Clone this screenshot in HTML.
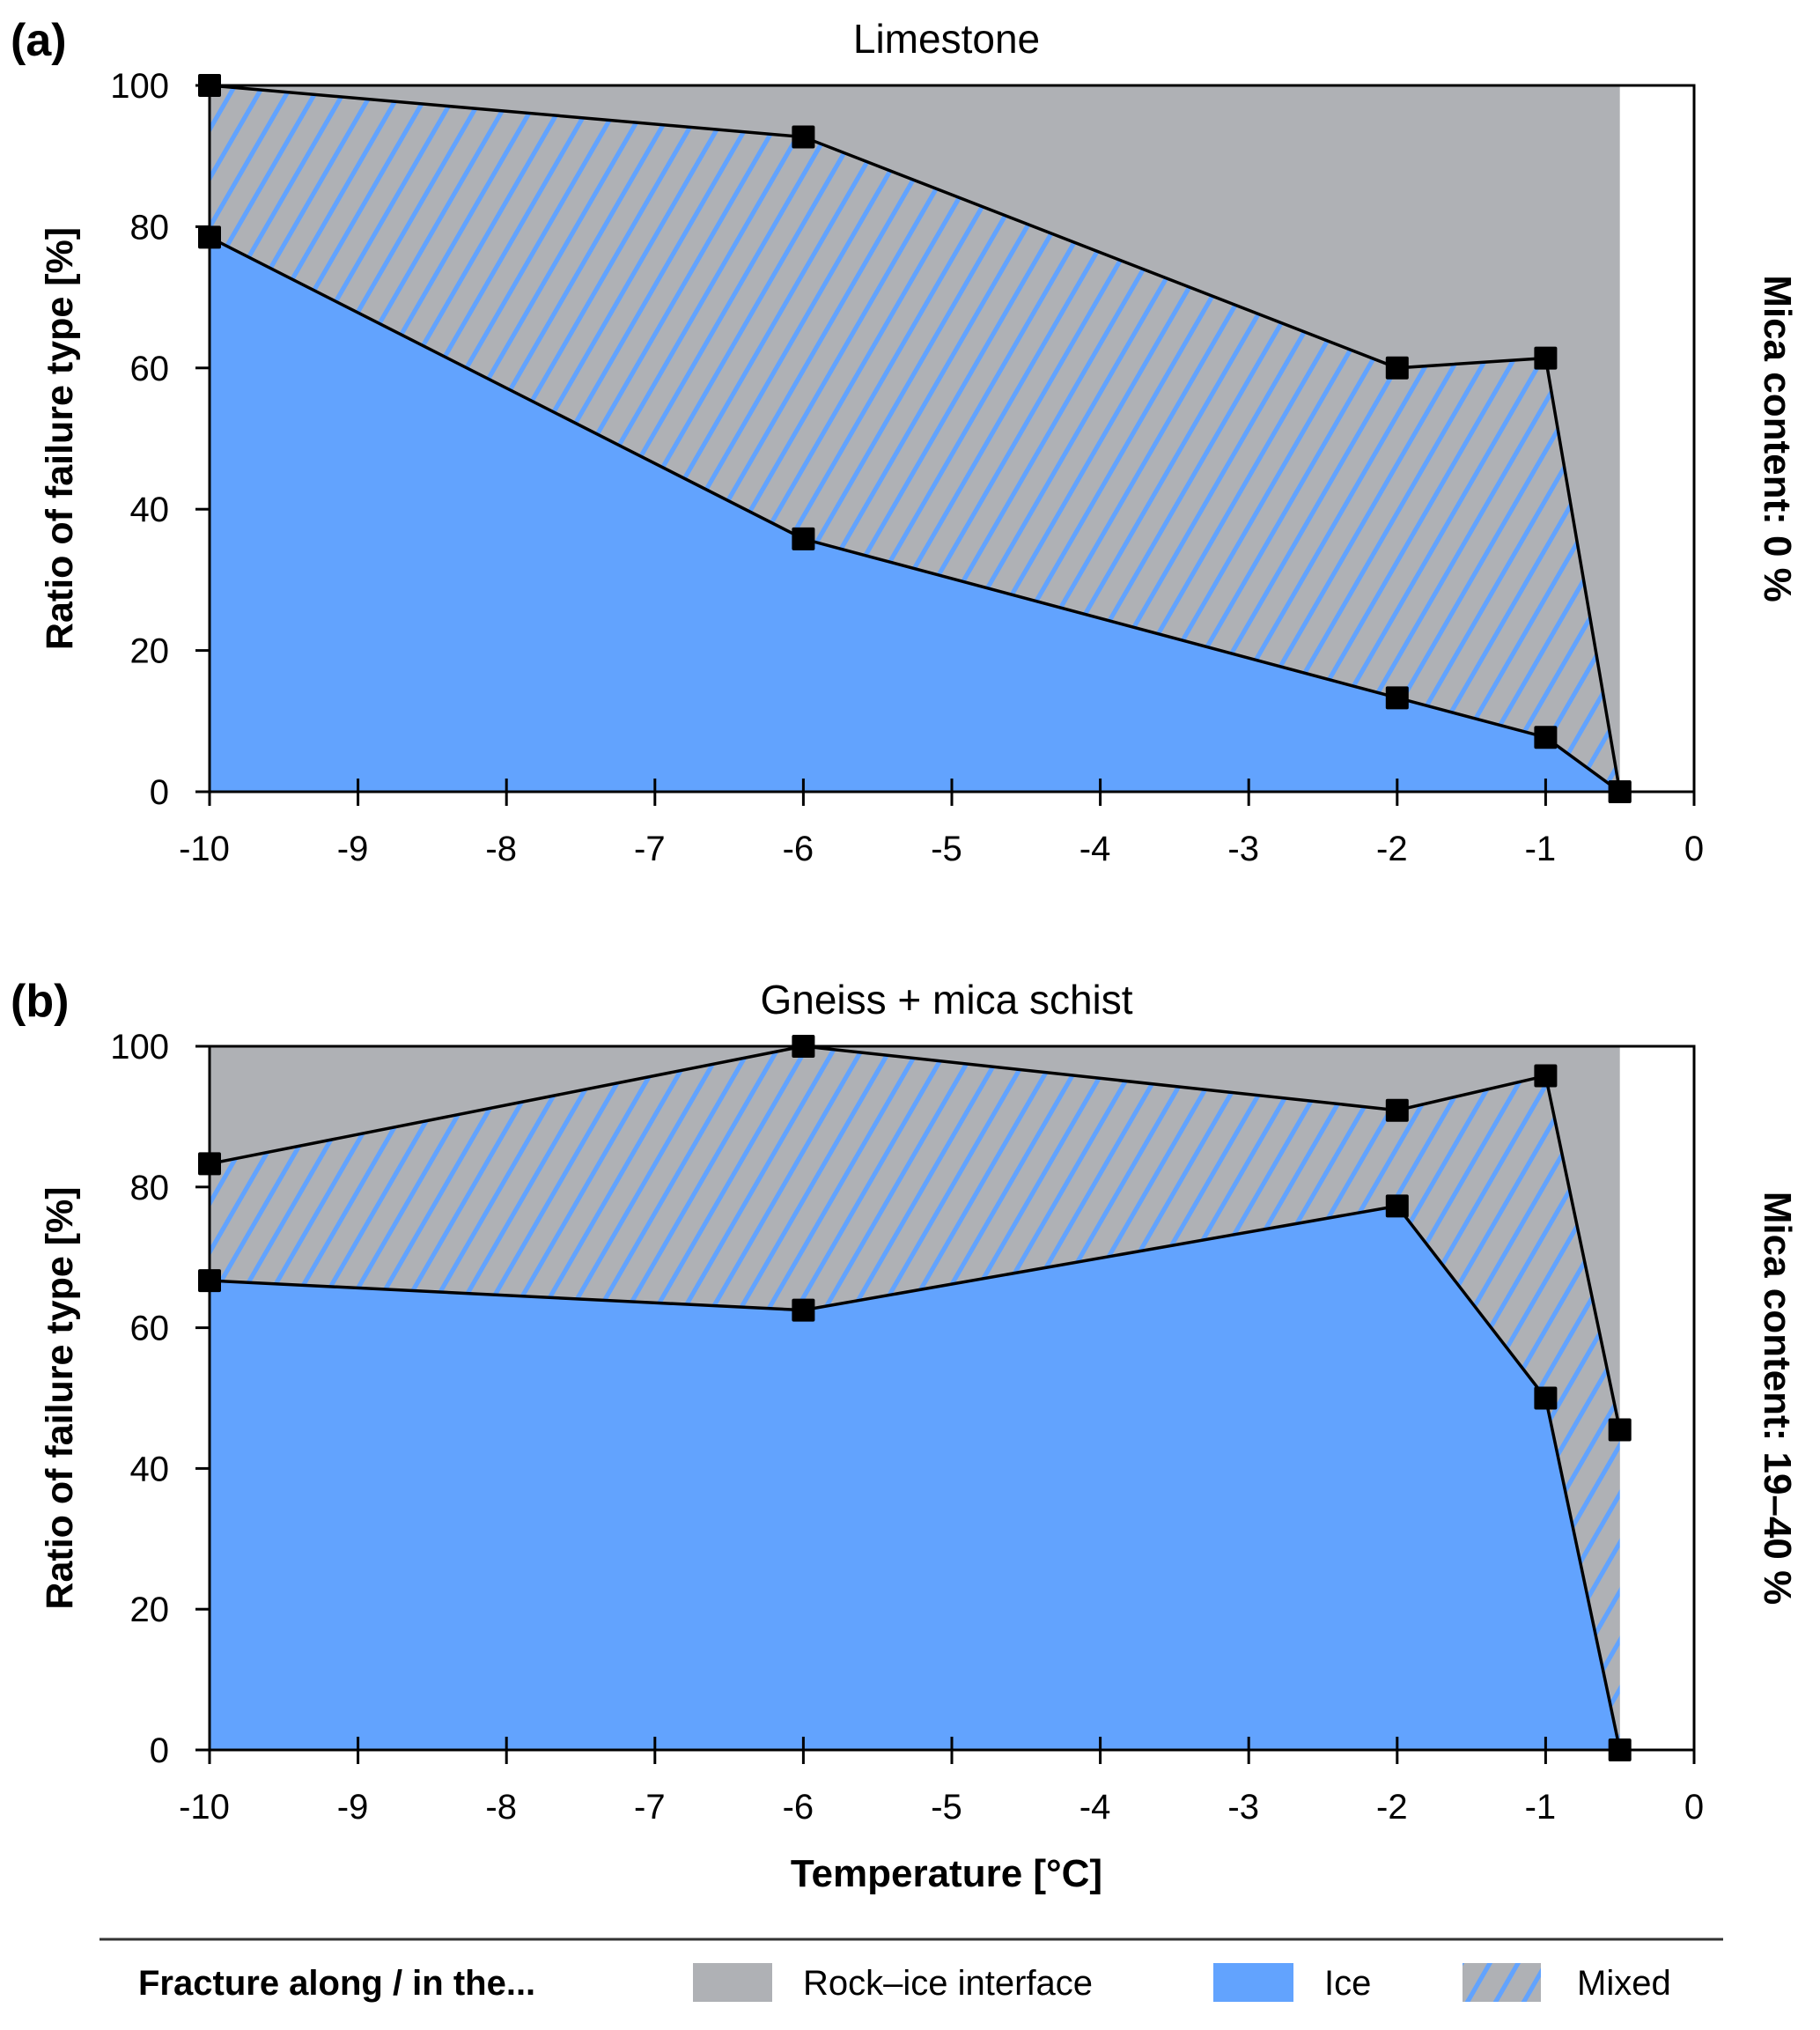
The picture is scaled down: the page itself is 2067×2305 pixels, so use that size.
<!DOCTYPE html>
<html><head><meta charset="utf-8">
<style>
html,body{margin:0;padding:0;background:#fff;}
svg{display:block;font-family:"Liberation Sans",sans-serif;}
</style></head>
<body>
<svg id="fig" width="2067" height="2305" viewBox="0 0 2067 2305" xmlns="http://www.w3.org/2000/svg">
<defs>
<pattern id="hatch" patternUnits="userSpaceOnUse" width="32" height="2000" patternTransform="skewX(-30)">
<rect width="32" height="2000" fill="#afb1b5"/>
<rect x="0" width="6" height="2000" fill="#62a3fe"/>
</pattern>
</defs>
<g id="chart"></g>
<g>
<line x1="113" y1="2202" x2="1957" y2="2202" stroke="#333" stroke-width="3"/>
<text x="157" y="2265" font-size="40" font-weight="bold" fill="#000">Fracture along / in the...</text>
<rect x="787" y="2229" width="90" height="44" fill="#afb1b5"/>
<text x="912" y="2265" font-size="40" fill="#000">Rock–ice interface</text>
<rect x="1378" y="2229" width="91" height="44" fill="#62a3fe"/>
<text x="1504" y="2265" font-size="40" fill="#000">Ice</text>
<rect x="1661" y="2229" width="89" height="44" fill="url(#hatch)"/>
<text x="1791" y="2265" font-size="40" fill="#000">Mixed</text>
</g>
</svg>
<script>
const temps = [-10, -6, -2, -1, -0.5];
const topA = [100, 92.7, 60, 61.4, 0];
const iceA = [78.5, 35.8, 13.3, 7.7, 0];
const topB = [83.3, 100, 90.9, 95.8, 45.5];
const iceB = [66.7, 62.5, 77.3, 50, 0];
const xTicks = [-10, -9, -8, -7, -6, -5, -4, -3, -2, -1, 0];
const yTicks = [0, 20, 40, 60, 80, 100];

const NS = "http://www.w3.org/2000/svg";
const root = document.getElementById('chart');
function mk(tag, attrs, parent){
  const e = document.createElementNS(NS, tag);
  for (const k in attrs) e.setAttribute(k, attrs[k]);
  (parent||root).appendChild(e);
  return e;
}
const X0 = 238, X1 = 1924;
function xs(v){ return X0 + (v + 10) / 10 * (X1 - X0); }

function panel(id, top, bottom, topVals, iceVals, title, letter, mica, showXTitle){
  const g = mk('g', {});
  
  
  const ys = v => bottom - v / 100 * (bottom - top);
  const bg = mk('rect', {x: xs(-10), y: ys(100), width: xs(-0.5) - xs(-10), height: ys(0) - ys(100), fill: '#afb1b5'}, g);
  
  
  let d = '';
  temps.forEach((t, i) => { d += (i ? 'L' : 'M') + xs(t) + ' ' + ys(topVals[i]) + ' '; });
  for (let i = temps.length - 1; i >= 0; i--) d += 'L' + xs(temps[i]) + ' ' + ys(iceVals[i]) + ' ';
  const mixed = mk('path', {d: d + 'Z', fill: 'url(#hatch)'}, g);
  
  
  let d2 = 'M' + xs(temps[0]) + ' ' + ys(0) + ' ';
  temps.forEach((t, i) => { d2 += 'L' + xs(t) + ' ' + ys(iceVals[i]) + ' '; });
  d2 += 'L' + xs(temps[temps.length - 1]) + ' ' + ys(0) + ' Z';
  const ice = mk('path', {d: d2, fill: '#62a3fe'}, g);
  
  
  const fr = mk('rect', {x: X0, y: top, width: X1 - X0, height: bottom - top, fill: 'none', stroke: '#000', 'stroke-width': 3}, g);
  
  
  [topVals, iceVals].forEach((vals, k) => {
    const pts = temps.map((t, i) => xs(t) + ',' + ys(vals[i])).join(' ');
    const l = mk('polyline', {points: pts, fill: 'none', stroke: '#000', 'stroke-width': 3.5}, g);
    
    
    temps.forEach((t, i) => {
      const m = mk('rect', {x: xs(t) - 13, y: ys(vals[i]) - 13, width: 26, height: 26, rx: 2, fill: '#000'}, g);
      
      
    });
  });
  yTicks.forEach(v => {
    mk('line', {x1: X0 - 16, x2: X0, y1: ys(v), y2: ys(v), stroke: '#000', 'stroke-width': 3}, g);
    const t = mk('text', {x: X0 - 46, y: ys(v) + 14, 'font-size': 40, 'text-anchor': 'end'}, g);
    t.textContent = v;
    
    
  });
  xTicks.forEach(v => {
    mk('line', {x1: xs(v), x2: xs(v), y1: bottom - 15, y2: bottom + 16, stroke: '#000', 'stroke-width': 3}, g);
    const t = mk('text', {x: xs(v) - (v < 0 ? 6 : 0), y: bottom + 78, 'font-size': 40, 'text-anchor': 'middle'}, g);
    t.textContent = v;
    
    
  });
  const ttl = mk('text', {x: 1075, y: top - 37, 'font-size': 46, 'text-anchor': 'middle'}, g);
  ttl.textContent = title;
  
  
  const lt = mk('text', {x: 12, y: top - 34, 'font-size': 52, 'font-weight': 'bold'}, g);
  lt.textContent = letter;
  
  
  const cy = (top + bottom) / 2;
  const yt = mk('text', {x: 0, y: 0, 'font-size': 43, 'font-weight': 'bold', 'text-anchor': 'middle', transform: 'translate(82 ' + cy + ') rotate(-90)'}, g);
  yt.textContent = 'Ratio of failure type [%]';
  
  
  const rt = mk('text', {x: 0, y: 0, 'font-size': 44, 'font-weight': 'bold', 'text-anchor': 'middle', transform: 'translate(2004 ' + cy + ') rotate(90)'}, g);
  rt.textContent = mica;
  
  
  if (showXTitle){
    const xt = mk('text', {x: 1075, y: 2142, 'font-size': 44, 'font-weight': 'bold', 'text-anchor': 'middle'}, g);
    xt.textContent = 'Temperature [°C]';
    
    
  }
}
panel('a', 97, 899, topA, iceA, 'Limestone', '(a)', 'Mica content: 0 %', false);
panel('b', 1188, 1987, topB, iceB, 'Gneiss + mica schist', '(b)', 'Mica content: 19–40 %', true);
</script>
</body></html>
